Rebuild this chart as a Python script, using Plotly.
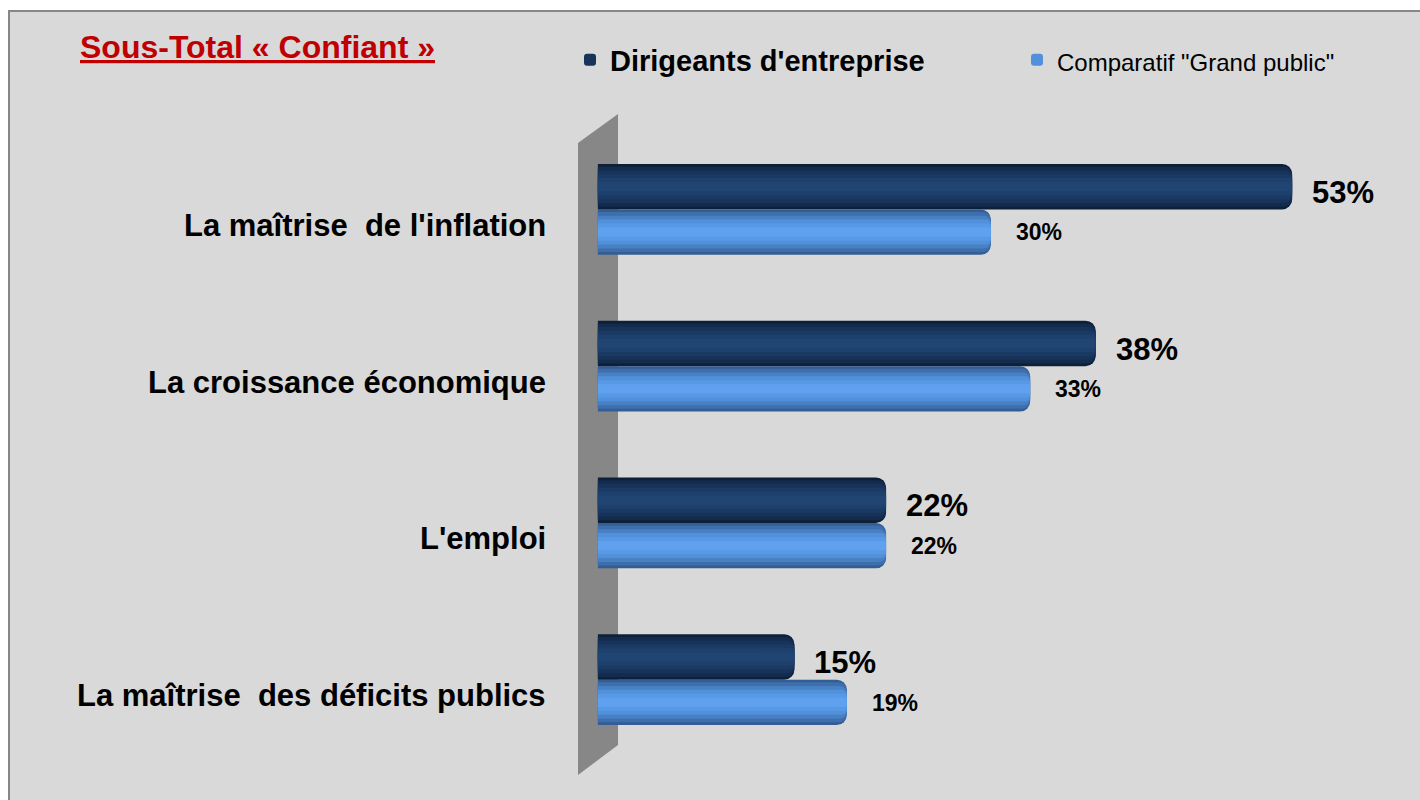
import plotly.graph_objects as go

# données
categories = ["La maîtrise de l'inflation", "La croissance économique", "L'emploi",
              "La maîtrise des déficits publics"]
labels = ["La maîtrise\u00a0 de l'inflation", "La croissance économique", "L'emploi",
          "La maîtrise\u00a0 des déficits publics"]
dirigeants = [53, 38, 22, 15]
grand_public = [30, 33, 22, 19]

FONT = "Liberation Sans, Arial, sans-serif"
W_FIG, H_FIG = 1420, 800
L, R, T, B = 590, 10, 131, 42
PW = W_FIG - L - R
PH = H_FIG - T - B
X_MIN, X_MAX = -0.6, 62


def px(X):
    # pixel -> paper
    return (X - L) / PW


def py(Y):
    return (H_FIG - B - Y) / PH


THICK = 0.29  # épaisseur d'une barre (unités de catégorie)

fig = go.Figure()

# barres "cylindre" : couches superposées du bord vers le centre
dark_layers = [(1.0, "#0e1f38"), (0.88, "#132b4c"), (0.72, "#17335a"),
               (0.55, "#1a3a64"), (0.38, "#1d406c"), (0.2, "#204572")]
light_layers = [(1.0, "#335d93"), (0.88, "#3e6eab"), (0.72, "#4880c4"),
                (0.55, "#5190da"), (0.38, "#5899e6"), (0.2, "#5fa1ef")]

for k, (frac, col) in enumerate(dark_layers):
    w = THICK * frac
    fig.add_trace(go.Bar(
        y=categories, x=dirigeants, orientation="h",
        offset=-THICK / 2 - w / 2, width=w,
        marker=dict(color=col, line=dict(width=0), cornerradius=int(10 * frac)),
        name="<b>Dirigeants d'entreprise</b>",
        legendgroup="d", showlegend=(k == 2), legendwidth=402, hoverinfo="x",
    ))

for k, (frac, col) in enumerate(light_layers):
    w = THICK * frac
    fig.add_trace(go.Bar(
        y=categories, x=grand_public, orientation="h",
        offset=THICK / 2 - w / 2, width=w,
        marker=dict(color=col, line=dict(width=0), cornerradius=int(10 * frac)),
        name="<span style='font-size:24px;font-weight:normal'>Comparatif \"Grand public\"</span>",
        legendgroup="g", showlegend=(k == 3), hoverinfo="x",
    ))

annotations = []
# titre
annotations.append(dict(
    xref="paper", yref="paper", x=px(78), y=py(47), xanchor="left", yanchor="middle",
    text="<b><u>Sous-Total « Confiant »</u></b>", showarrow=False,
    font=dict(family=FONT, size=32, color="#c00000"),
))
# libellés des catégories
for c, lab in zip(categories, labels):
    annotations.append(dict(
        xref="paper", yref="y", x=px(548), y=c, yshift=-16, xanchor="right",
        text="<b>" + lab + "</b>", showarrow=False,
        font=dict(family=FONT, size=31, color="#000000"),
    ))
# valeurs
for c, v in zip(categories, dirigeants):
    annotations.append(dict(
        x=v, y=c, xref="x", yref="y", xanchor="left", xshift=18, yshift=17,
        text="<b>%d%%</b>" % v, showarrow=False,
        font=dict(family=FONT, size=31, color="#000000"),
    ))
for c, v in zip(categories, grand_public):
    annotations.append(dict(
        x=v, y=c, xref="x", yref="y", xanchor="left", xshift=23, yshift=-23,
        text="<b>%d%%</b>" % v, showarrow=False,
        font=dict(family=FONT, size=23, color="#000000"),
    ))

shapes = [
    # cadre gris
    dict(type="rect", xref="paper", yref="paper", layer="below",
         x0=px(9), x1=px(1440), y0=py(830), y1=py(11),
         fillcolor="#d9d9d9", line=dict(color="#878787", width=2)),
    # mur 3D à gauche
    dict(type="path", xref="paper", yref="paper", layer="below",
         path="M %f,%f L %f,%f L %f,%f L %f,%f Z" % (
             px(578), py(143), px(618), py(114), px(618), py(745), px(578), py(775)),
         fillcolor="#878787", line=dict(width=0)),
]

fig.update_layout(
    width=W_FIG, height=H_FIG,
    margin=dict(l=L, r=R, t=T, b=B),
    barmode="overlay",
    paper_bgcolor="#ffffff", plot_bgcolor="rgba(0,0,0,0)",
    font=dict(family=FONT, color="#000000"),
    xaxis=dict(range=[X_MIN, X_MAX], visible=False),
    yaxis=dict(autorange="reversed", showticklabels=False, showgrid=False,
               zeroline=False, showline=False, ticks=""),
    legend=dict(orientation="h", x=px(570), y=py(60), xanchor="left", yanchor="middle",
                font=dict(family=FONT, size=29, color="#000000"),
                bgcolor="rgba(0,0,0,0)", traceorder="normal",
                itemclick=False, itemdoubleclick=False),
    annotations=annotations,
    shapes=shapes,
    showlegend=True,
)

# pas de marge autour du graphique dans la page
fig.write_html("out.html", config={"displayModeBar": False},
               post_script="document.body.style.margin='0';"
                           "document.body.style.overflow='hidden';")
